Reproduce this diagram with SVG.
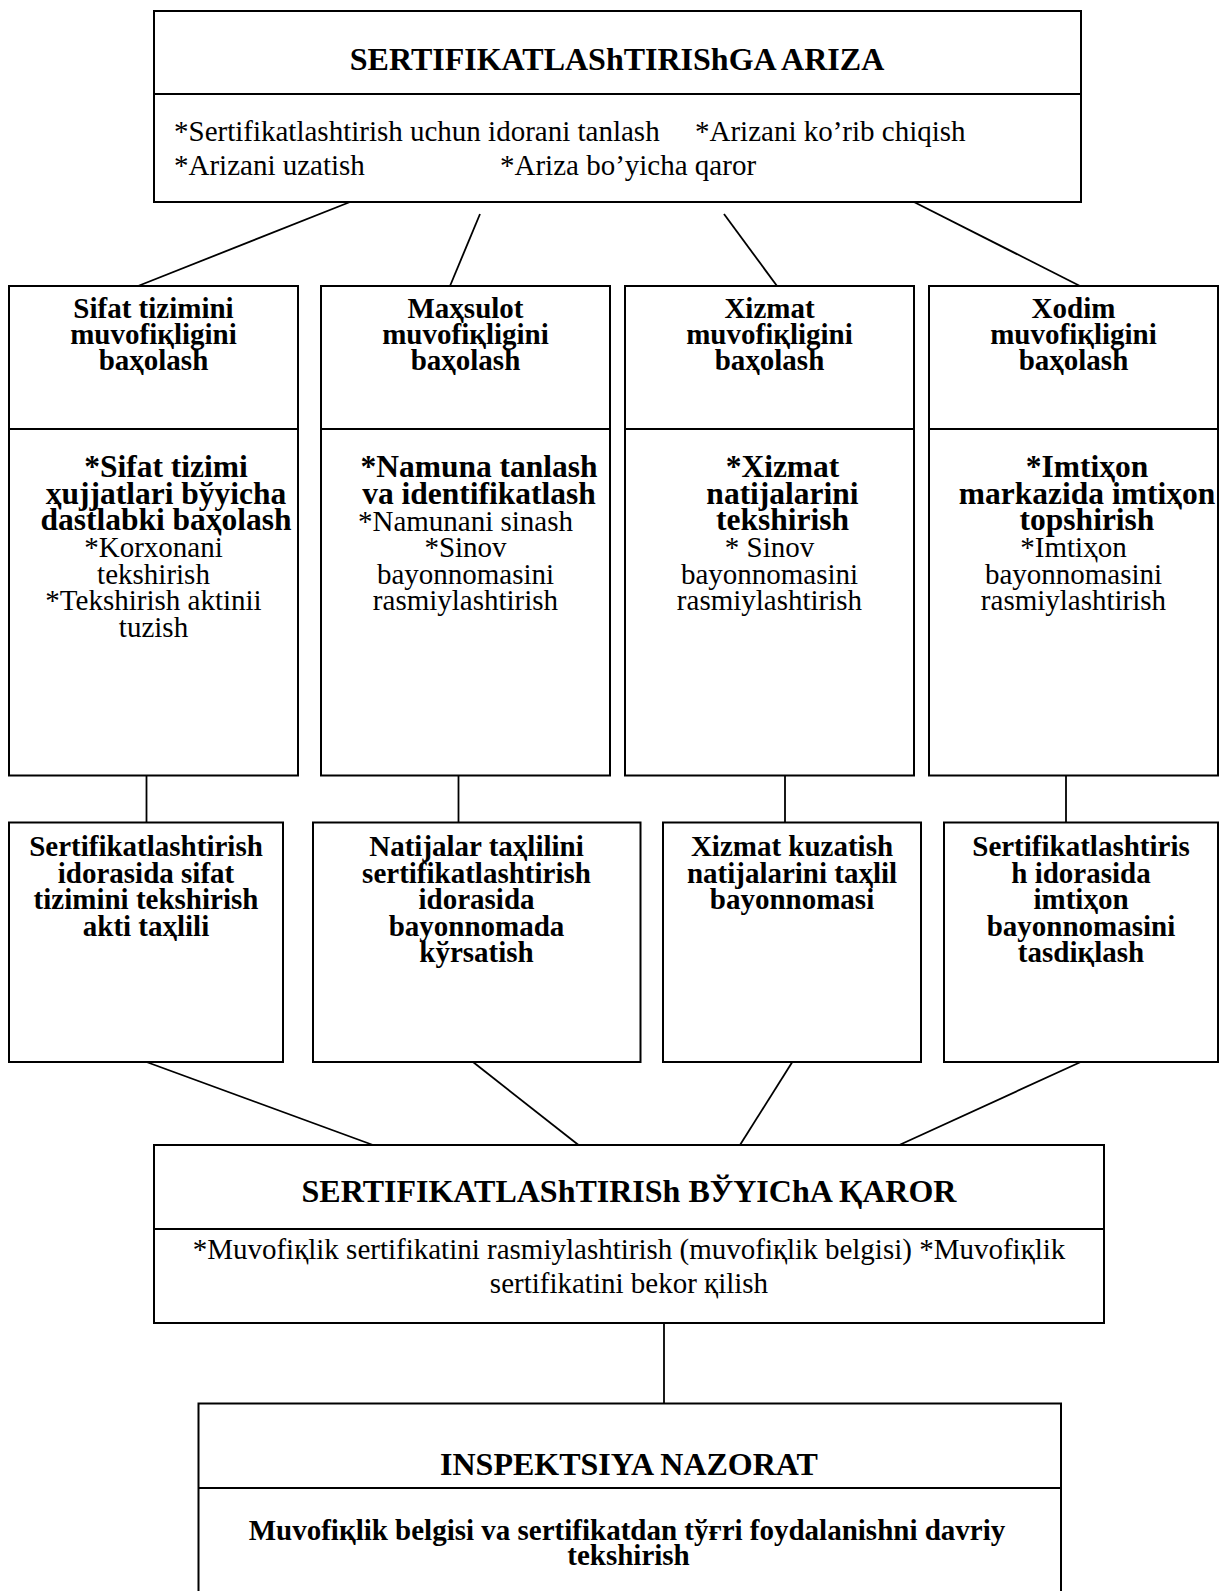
<svg xmlns="http://www.w3.org/2000/svg" width="1221" height="1591" viewBox="0 0 1221 1591">
<style>
.box{fill:#fff;stroke:#000;stroke-width:2}
.dv{stroke:#000;stroke-width:2}
.cn{stroke:#000;stroke-width:1.8;fill:none}
text{font-family:"Liberation Serif","DejaVu Serif",serif;fill:#000}
.ttl{font-size:32px;font-weight:bold;text-anchor:middle}
.hd{font-size:29px;font-weight:bold;text-anchor:middle}
.bb{font-size:31.5px;font-weight:bold;text-anchor:middle}
.rg{font-size:29px;text-anchor:middle}
.lf{font-size:29px}
</style>
<rect width="1221" height="1591" fill="#fff"/>
<g id="connectors">
<line class="cn" x1="350" y1="202" x2="138" y2="286"/>
<line class="cn" x1="480" y1="214" x2="450" y2="286"/>
<line class="cn" x1="724" y1="214" x2="777" y2="286"/>
<line class="cn" x1="914" y1="202" x2="1080" y2="286"/>
<line class="cn" x1="146.5" y1="775.5" x2="146.5" y2="822.5"/>
<line class="cn" x1="458.5" y1="775.5" x2="458.5" y2="822.5"/>
<line class="cn" x1="785" y1="775.5" x2="785" y2="822.5"/>
<line class="cn" x1="1066" y1="775.5" x2="1066" y2="822.5"/>
<line class="cn" x1="146.5" y1="1062" x2="373" y2="1145"/>
<line class="cn" x1="473" y1="1062" x2="578.5" y2="1145"/>
<line class="cn" x1="792.3" y1="1062" x2="740" y2="1145"/>
<line class="cn" x1="1080.7" y1="1062" x2="899.3" y2="1145"/>
<line class="cn" x1="664" y1="1323" x2="664" y2="1403.5"/>
</g>
<g id="ariza">
<rect class="box" x="154" y="11" width="927" height="191"/>
<line class="dv" x1="154" y1="94" x2="1081" y2="94"/>
<text class="ttl" x="617" y="70">SERTIFIKATLAShTIRIShGA ARIZA</text>
<text class="lf" x="174" y="141">*Sertifikatlashtirish uchun idorani tanlash</text>
<text class="lf" x="695" y="141">*Arizani ko’rib chiqish</text>
<text class="lf" x="174" y="175">*Arizani uzatish</text>
<text class="lf" x="500" y="175">*Ariza bo’yicha qaror</text>
</g>
<g id="sifat">
<rect class="box" x="9" y="286" width="289" height="489.5"/>
<line class="dv" x1="9" y1="429" x2="298" y2="429"/>
<text class="hd" x="153.5" y="318">Sifat tizimini</text>
<text class="hd" x="153.5" y="344">muvofiқligini</text>
<text class="hd" x="153.5" y="370">baҳolash</text>
<text class="bb" x="166" y="477">*Sifat tizimi</text>
<text class="bb" x="166" y="503.5">ҳujjatlari bўyicha</text>
<text class="bb" x="166" y="530">dastlabki baҳolash</text>
<text class="rg" x="153.5" y="557">*Korxonani</text>
<text class="rg" x="153.5" y="583.5">tekshirish</text>
<text class="rg" x="153.5" y="610">*Tekshirish aktinii</text>
<text class="rg" x="153.5" y="636.5">tuzish</text>
</g>
<g id="mahsulot">
<rect class="box" x="321" y="286" width="289" height="489.5"/>
<line class="dv" x1="321" y1="429" x2="610" y2="429"/>
<text class="hd" x="465.5" y="318">Maҳsulot</text>
<text class="hd" x="465.5" y="344">muvofiқligini</text>
<text class="hd" x="465.5" y="370">baҳolash</text>
<text class="bb" x="479" y="477">*Namuna tanlash</text>
<text class="bb" x="479" y="503.5">va identifikatlash</text>
<text class="rg" x="465.5" y="531">*Namunani sinash</text>
<text class="rg" x="465.5" y="557">*Sinov</text>
<text class="rg" x="465.5" y="583.5">bayonnomasini</text>
<text class="rg" x="465.5" y="610">rasmiylashtirish</text>
</g>
<g id="xizmat">
<rect class="box" x="625" y="286" width="289" height="489.5"/>
<line class="dv" x1="625" y1="429" x2="914" y2="429"/>
<text class="hd" x="769.5" y="318">Xizmat</text>
<text class="hd" x="769.5" y="344">muvofiқligini</text>
<text class="hd" x="769.5" y="370">baҳolash</text>
<text class="bb" x="782.5" y="477">*Xizmat</text>
<text class="bb" x="782.5" y="503.5">natijalarini</text>
<text class="bb" x="782.5" y="530">tekshirish</text>
<text class="rg" x="769.5" y="557">* Sinov</text>
<text class="rg" x="769.5" y="583.5">bayonnomasini</text>
<text class="rg" x="769.5" y="610">rasmiylashtirish</text>
</g>
<g id="xodim">
<rect class="box" x="929" y="286" width="289" height="489.5"/>
<line class="dv" x1="929" y1="429" x2="1218" y2="429"/>
<text class="hd" x="1073.5" y="318">Xodim</text>
<text class="hd" x="1073.5" y="344">muvofiқligini</text>
<text class="hd" x="1073.5" y="370">baҳolash</text>
<text class="bb" x="1087" y="477">*Imtiҳon</text>
<text class="bb" x="1087" y="503.5">markazida imtiҳon</text>
<text class="bb" x="1087" y="530">topshirish</text>
<text class="rg" x="1073.5" y="557">*Imtiҳon</text>
<text class="rg" x="1073.5" y="583.5">bayonnomasini</text>
<text class="rg" x="1073.5" y="610">rasmiylashtirish</text>
</g>
<g id="akt">
<rect class="box" x="9" y="822.5" width="274" height="239.5"/>
<text class="hd" x="146" y="856">Sertifikatlashtirish</text>
<text class="hd" x="146" y="882.5">idorasida sifat</text>
<text class="hd" x="146" y="909">tizimini tekshirish</text>
<text class="hd" x="146" y="935.5">akti taҳlili</text>
</g>
<g id="natijalar">
<rect class="box" x="313" y="822.5" width="327.5" height="239.5"/>
<text class="hd" x="476.5" y="856">Natijalar taҳlilini</text>
<text class="hd" x="476.5" y="882.5">sertifikatlashtirish</text>
<text class="hd" x="476.5" y="909">idorasida</text>
<text class="hd" x="476.5" y="935.5">bayonnomada</text>
<text class="hd" x="476.5" y="962">kўrsatish</text>
</g>
<g id="kuzatish">
<rect class="box" x="663" y="822.5" width="258" height="239.5"/>
<text class="hd" x="792" y="856">Xizmat kuzatish</text>
<text class="hd" x="792" y="882.5">natijalarini taҳlil</text>
<text class="hd" x="792" y="909">bayonnomasi</text>
</g>
<g id="tasdiqlash">
<rect class="box" x="944" y="822.5" width="274" height="239.5"/>
<text class="hd" x="1081" y="856">Sertifikatlashtiris</text>
<text class="hd" x="1081" y="882.5">h idorasida</text>
<text class="hd" x="1081" y="909">imtiҳon</text>
<text class="hd" x="1081" y="935.5">bayonnomasini</text>
<text class="hd" x="1081" y="962">tasdiқlash</text>
</g>
<g id="qaror">
<rect class="box" x="154" y="1145" width="950" height="178"/>
<line class="dv" x1="154" y1="1229" x2="1104" y2="1229"/>
<text class="ttl" x="629" y="1202">SERTIFIKATLAShTIRISh BЎYIChA ҚAROR</text>
<text class="rg" x="629" y="1259">*Muvofiқlik sertifikatini rasmiylashtirish (muvofiқlik belgisi) *Muvofiқlik</text>
<text class="rg" x="629" y="1293">sertifikatini bekor қilish</text>
</g>
<g id="inspektsiya">
<rect class="box" x="198.5" y="1403.5" width="862.5" height="200"/>
<line class="dv" x1="198.5" y1="1488" x2="1061" y2="1488"/>
<text class="ttl" x="629" y="1475">INSPEKTSIYA NAZORAT</text>
<text class="hd" x="627" y="1540">Muvofiқlik belgisi va sertifikatdan tўғri foydalanishni davriy</text>
<text class="hd" x="628.5" y="1565">tekshirish</text>
</g>
</svg>
